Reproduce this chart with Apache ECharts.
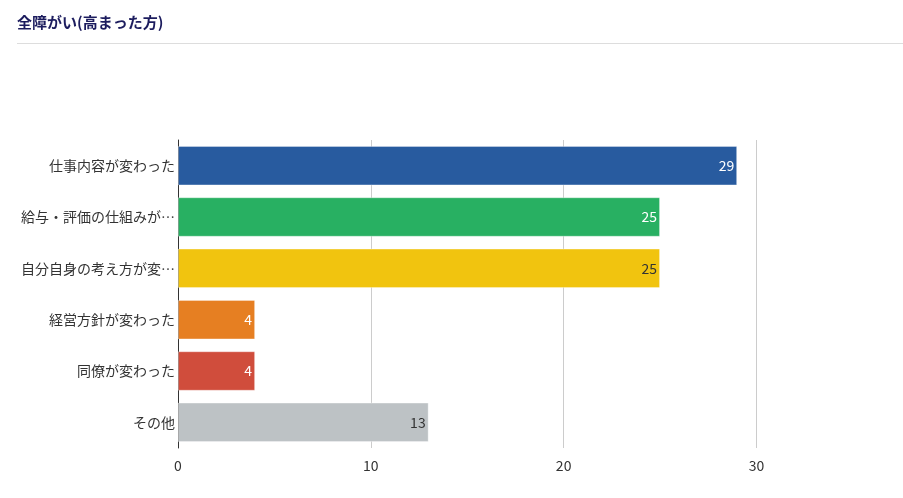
<!DOCTYPE html>
<html>
<head>
<meta charset="utf-8">
<script src="https://cdn.jsdelivr.net/npm/echarts@6/dist/echarts.min.js"></script>
<style>
  html, body { margin: 0; padding: 0; background: #fff; }
  #chart { width: 903px; height: 498px; }
</style>
</head>
<body>
<div id="chart"></div>
<script>
// 項目（上から順）
const categories = [
  '仕事内容が変わった',
  '給与・評価の仕組みが…',
  '自分自身の考え方が変…',
  '経営方針が変わった',
  '同僚が変わった',
  'その他'
]
const values = [29, 25, 25, 4, 4, 13]
const barColors = ['#285b9f', '#28b062', '#f1c40f', '#e67f22', '#d04d3c', '#bdc2c5']
const labelColors = ['#fff', '#fff', '#333', '#fff', '#fff', '#333']
const xTicks = [0, 10, 20, 30]

const font = '"Noto Sans CJK JP", "Noto Sans", sans-serif'

const chart = echarts.init(document.getElementById('chart'))

chart.setOption({
  animation: false,
  textStyle: { fontFamily: font },
  title: {
    text: '全障がい(高まった方)',
    left: 12,
    top: 10,
    textStyle: { fontSize: 15, fontWeight: 'bold', color: '#1c1c5e', fontFamily: font }
  },
  graphic: [{
    type: 'line',
    shape: { x1: 17, y1: 43.5, x2: 903, y2: 43.5 },
    style: { stroke: '#dddddd', lineWidth: 1 }
  }],
  grid: { left: 178, right: 0, top: 140, bottom: 50 },
  xAxis: {
    type: 'value',
    min: xTicks[0],
    max: 37.6,
    interval: 10,
    axisLine: { show: false },
    axisTick: { show: false },
    splitLine: { lineStyle: { color: '#cccccc' } },
    axisLabel: {
      showMaxLabel: false,
      color: '#333',
      fontSize: 14,
      margin: 11,
      formatter: v => (xTicks.includes(v) ? String(v) : '')
    }
  },
  yAxis: {
    type: 'category',
    inverse: true,
    data: categories,
    axisLine: { lineStyle: { color: '#333' } },
    axisTick: { show: false },
    axisLabel: { color: '#333', fontSize: 14, margin: 3 }
  },
  series: [{
    type: 'bar',
    barCategoryGap: '23%',
    data: values.map((v, i) => ({
      value: v,
      itemStyle: {
        color: barColors[i],
        borderColor: 'rgba(255,255,255,0.35)',
        borderWidth: 1
      },
      label: { color: labelColors[i] }
    })),
    label: {
      show: true,
      position: 'insideRight',
      distance: 3,
      fontSize: 14
    }
  }]
})
</script>
</body>
</html>
